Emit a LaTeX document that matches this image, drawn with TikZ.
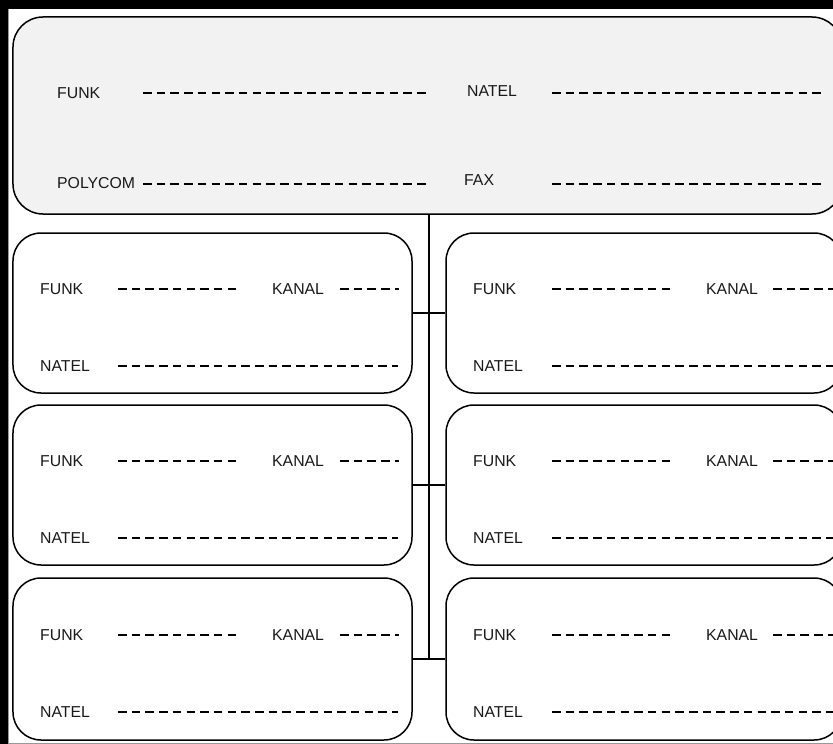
\documentclass[tikz,border=0pt]{standalone}
\usepackage{fontspec}
\setmainfont{Liberation Sans}
\definecolor{topfill}{HTML}{F2F2F2}
\begin{document}
\begin{tikzpicture}[x=1bp,y=-1bp,
  bx/.style={draw=black, line width=1.5bp, rounded corners=28bp, inner sep=0pt, minimum width=#1},
  lbl/.style={anchor=west, inner sep=0pt, font=\fontsize{15.8bp}{18bp}\selectfont, text=black!90},
  blank/.style={line width=2bp, dash pattern=on 8.5bp off 5.2bp},
  conn/.style={line width=1.5bp}]
\useasboundingbox (0,0) rectangle (833,744);
\clip (0,0) rectangle (833,744);
\fill[white] (0,0) rectangle (833,744);
% frame
\fill[black] (0,0) rectangle (833,9);
\fill[black] (0,0) rectangle (8,744);
\draw[black!40, line width=1bp] (8.5,9) -- (8.5,744);
\draw[black!40, line width=1bp] (8,743) -- (833,743);
% top box
\node[bx=829bp, fill=topfill, minimum height=197bp, rounded corners=30bp] (top) at (427.5,115.5) {};
\node[lbl] (tf) at (57,93) {FUNK};
\node[lbl] (tn) at (467,91) {NATEL};
\node[lbl] (tp) at (57,183) {POLYCOM};
\node[lbl] (tx) at (464,180) {FAX};
\draw[blank] (143,93) -- (430,93);
\draw[blank] (552,93) -- (823,93);
\draw[blank] (143,184) -- (430,184);
\draw[blank] (552,184) -- (823,184);
% small boxes
\foreach \i/\c/\h in {1/313/160, 2/485/160, 3/659/162}{
  \node[bx=399bp, minimum height=\h bp] (L\i) at (212.5,\c) {};
  \node[bx=396bp, minimum height=\h bp] (R\i) at (644,\c) {};
  \pgfmathsetmacro{\fy}{\c-24}
  \pgfmathsetmacro{\ny}{\c+53}
  \node[lbl] (LF\i) at (40,\fy) {FUNK};
  \node[lbl] (LK\i) at (272,\fy) {KANAL};
  \node[lbl] (LN\i) at (40,\ny) {NATEL};
  \node[lbl] (RF\i) at (473,\fy) {FUNK};
  \node[lbl] (RK\i) at (706,\fy) {KANAL};
  \node[lbl] (RN\i) at (473,\ny) {NATEL};
  \draw[blank] (118,\fy) -- (238,\fy);
  \draw[blank] (340,\fy) -- (399,\fy);
  \draw[blank] (118,\ny) -- (398,\ny);
  \draw[blank] (552,\fy) -- (672,\fy);
  \draw[blank] (773,\fy) -- (833,\fy);
  \draw[blank] (552,\ny) -- (833,\ny);
  \draw[conn] (L\i.east) -- (R\i.west);
}
\coordinate (tr) at (429,659);
\draw[conn] (top.south -| tr) -- (tr);
\end{tikzpicture}
\end{document}
